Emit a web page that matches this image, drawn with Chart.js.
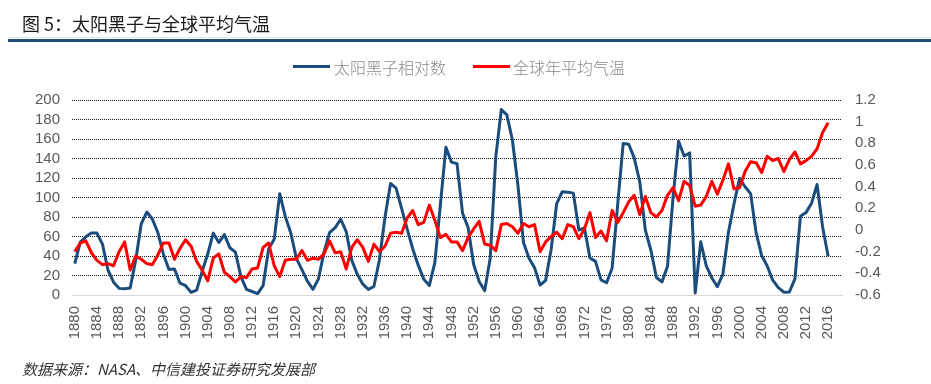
<!DOCTYPE html>
<html>
<head>
<meta charset="utf-8">
<script src="https://cdn.jsdelivr.net/npm/chart.js@4.4.1/dist/chart.umd.min.js"></script>
<style>
  html, body { margin: 0; padding: 0; background: #fff; }
  #wrap { position: relative; width: 931px; height: 384px; overflow: hidden; font-family: "Noto Sans CJK SC", "Liberation Sans", sans-serif; }
  #c { position: absolute; left: 0; top: 0; }
  .abs { position: absolute; white-space: nowrap; }
  #title { left: 22px; top: 13px; font-size: 18px; line-height: 20px; color: #1a1a1a; }
  #rule { left: 8px; top: 39px; width: 923px; height: 3px; background: #1f4e79; }
  #rule2 { left: 8px; top: 37px; width: 923px; height: 1px; background: #dbe6f2; }
  .lg-line { position: absolute; height: 3px; width: 37px; top: 65px; }
  .lg-text { position: absolute; top: 57px; font-size: 16px; line-height: 20px; color: #8a8a8a; font-weight: 300; }
  #foot { left: 22px; top: 359px; font-size: 15px; line-height: 20px; color: #333; font-style: italic; }
</style>
</head>
<body>
<div id="wrap">
  <canvas id="c" width="931" height="384"></canvas>
  <div id="title" class="abs">图 5：太阳黑子与全球平均气温</div>
  <div id="rule2" class="abs"></div>
  <div id="rule" class="abs"></div>
  <div class="lg-line" style="left:293px;background:#1a4d7c"></div>
  <div class="lg-text" style="left:334px">太阳黑子相对数</div>
  <div class="lg-line" style="left:473px;background:#ff0000"></div>
  <div class="lg-text" style="left:513px">全球年平均气温</div>
  <div id="foot" class="abs">数据来源：NASA、中信建投证券研究发展部</div>
</div>
<script>
// Categories: years 1880..2018 (axis runs slightly past the data)
const years = [];
for (let y = 1880; y <= 2018; y++) years.push(String(y));

// Sunspot relative number, 1880..2016
const sunspots = [
  32.3,54.3,59.7,63.7,63.5,52.2,25.4,13.1,6.8,6.3,
  7.1,35.6,73.0,85.1,78.0,64.0,41.8,26.2,26.7,12.1,
  9.5,2.7,5.0,24.4,42.0,63.5,53.8,62.0,48.5,43.9,
  18.6,5.7,3.6,1.4,9.6,47.4,57.1,103.9,80.6,63.6,
  37.6,26.1,14.2,5.8,16.7,44.3,63.9,69.0,77.8,64.9,
  35.7,21.2,11.1,5.7,8.7,36.1,79.7,114.4,109.6,88.8,
  67.8,47.5,30.6,16.3,9.6,33.2,92.6,151.6,136.3,134.7,
  83.9,69.4,31.5,13.9,4.4,38.0,141.7,190.2,184.8,159.0,
  112.3,53.9,37.6,27.9,10.2,15.1,47.0,93.8,105.9,105.5,
  104.5,66.6,68.9,38.0,34.5,15.5,12.6,27.5,92.5,155.4,
  154.6,140.4,115.9,66.6,45.9,17.9,13.4,29.4,100.2,157.6,
  142.6,145.7,2.0,54.6,29.9,17.5,8.6,21.5,64.3,93.3,
  119.6,111.0,104.0,63.7,40.4,29.8,15.2,7.5,2.9,3.1,
  16.5,80.8,84.5,94.0,113.3,69.8,39.8
];

// Global annual mean temperature anomaly, 1880..2016
const temps = [
  -0.20,-0.12,-0.10,-0.21,-0.28,-0.32,-0.31,-0.33,-0.20,-0.11,
  -0.37,-0.24,-0.27,-0.31,-0.32,-0.23,-0.12,-0.12,-0.27,-0.17,
  -0.09,-0.15,-0.29,-0.37,-0.47,-0.26,-0.22,-0.39,-0.43,-0.48,
  -0.43,-0.44,-0.36,-0.35,-0.16,-0.12,-0.33,-0.43,-0.28,-0.27,
  -0.27,-0.19,-0.28,-0.26,-0.27,-0.22,-0.10,-0.21,-0.20,-0.36,
  -0.16,-0.09,-0.16,-0.29,-0.13,-0.20,-0.15,-0.03,-0.02,-0.03,
  0.11,0.18,0.05,0.07,0.23,0.09,-0.07,-0.04,-0.11,-0.11,
  -0.19,-0.07,0.01,0.08,-0.13,-0.14,-0.19,0.05,0.06,0.03,
  -0.03,0.06,0.03,0.05,-0.20,-0.11,-0.06,-0.02,-0.08,0.05,
  0.03,-0.08,0.01,0.16,-0.07,-0.01,-0.10,0.18,0.07,0.16,
  0.26,0.32,0.14,0.31,0.16,0.12,0.18,0.32,0.39,0.27,
  0.45,0.41,0.22,0.23,0.31,0.45,0.33,0.46,0.61,0.38,
  0.39,0.54,0.63,0.62,0.53,0.68,0.64,0.66,0.54,0.65,
  0.72,0.61,0.64,0.68,0.75,0.90,0.99
];

const seriesNames = ['太阳黑子相对数', '全球年平均气温'];
const leftTicks = { min: 0, max: 200, step: 20 };
const rightTicks = { min: -0.6, max: 1.2, step: 0.2 };

const tickFont = { family: '"Liberation Sans", Arial, sans-serif', size: 15 };

new Chart(document.getElementById('c'), {
  type: 'line',
  data: {
    labels: years,
    datasets: [
      { label: seriesNames[0], data: sunspots, yAxisID: 'yL', borderColor: '#1a4d7c', borderWidth: 3, pointRadius: 0, tension: 0, order: 1, borderJoinStyle: 'round' },
      { label: seriesNames[1], data: temps, yAxisID: 'yR', borderColor: '#ff0000', borderWidth: 3, pointRadius: 0, tension: 0, order: 0, borderJoinStyle: 'round' }
    ]
  },
  options: {
    responsive: false,
    animation: false,
    events: [],
    layout: { padding: { top: 100, left: 0, right: 0, bottom: 0 } },
    plugins: { legend: { display: false }, tooltip: { enabled: false }, title: { display: false } },
    scales: {
      x: {
        type: 'category',
        offset: true,
        grid: { display: false, drawTicks: false },
        border: { display: true, color: '#d9d9d9', width: 1 },
        ticks: {
          autoSkip: false, minRotation: 90, maxRotation: 90, padding: 11,
          color: '#595959', font: tickFont,
          callback: function (v, i) { return i % 4 === 0 ? years[i] : ''; }
        },
        afterFit: function (s) { s.height = 89; }
      },
      yL: {
        position: 'left', min: leftTicks.min, max: leftTicks.max,
        grid: {
          drawTicks: false, lineWidth: 1,
          color: function (ctx) { return ctx.tick && ctx.tick.value === 0 ? 'rgba(0,0,0,0)' : '#1a1a1a'; }
        },
        border: { display: false, dash: [1, 1] },
        ticks: { stepSize: leftTicks.step, autoSkip: false, padding: 12, color: '#595959', font: tickFont },
        afterFit: function (s) { s.width = 72; }
      },
      yR: {
        position: 'right', min: rightTicks.min, max: rightTicks.max,
        grid: { drawOnChartArea: false, drawTicks: false },
        border: { display: false },
        ticks: {
          stepSize: rightTicks.step, autoSkip: false, padding: 13, color: '#595959', font: tickFont,
          callback: function (v) { return String(Number(v.toFixed(1))); }
        },
        afterFit: function (s) { s.width = 89; }
      }
    }
  }
});
</script>
</body>
</html>
